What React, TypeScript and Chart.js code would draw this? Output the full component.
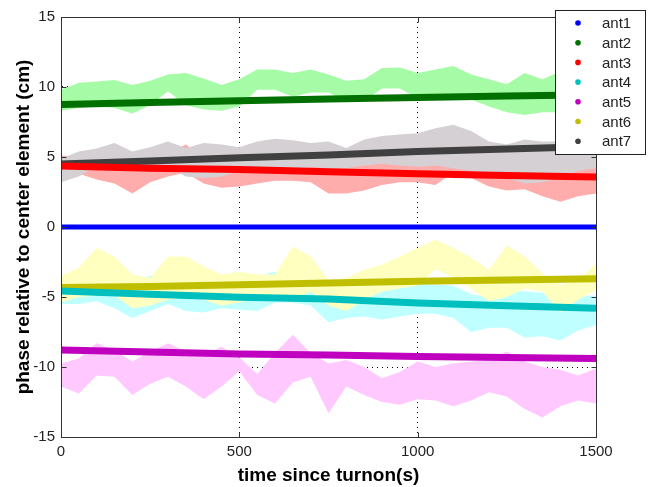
import React, { useEffect, useRef } from "react";
import { Chart, registerables } from "chart.js";

Chart.register(...registerables);

// ---------- data ----------
const SERIES_NAMES = ["ant1", "ant2", "ant3", "ant4", "ant5", "ant6", "ant7"];
const LINE_COLORS = ["#0000ff", "rgb(0,112,0)", "#ff0000", "rgb(0,191,191)", "rgb(191,0,191)", "rgb(191,191,0)", "rgb(64,64,64)"];
const BAND_COLORS = ["", "rgb(166,252,166)", "rgb(255,172,172)", "rgb(192,255,255)", "rgb(255,200,255)", "rgb(255,255,192)", "rgb(212,208,212)"];

const X_TICKS = [0, 500, 1000, 1500];
const Y_TICKS = [-15, -10, -5, 0, 5, 10, 15];

// trend lines (thick)
const LINE_TIMES = [0, 250, 500, 750, 1000, 1250, 1500];
const ANT1_TREND = [0, 0, 0, 0, 0, 0, 0];
const ANT2_TREND = [8.75, 8.9, 9.02, 9.15, 9.25, 9.35, 9.45];
const ANT3_TREND = [4.35, 4.2, 4.1, 3.95, 3.8, 3.68, 3.58];
const ANT4_TREND = [-4.57, -4.8, -5.02, -5.15, -5.42, -5.62, -5.8];
const ANT5_TREND = [-8.78, -8.92, -9.07, -9.15, -9.25, -9.33, -9.4];
const ANT6_TREND = [-4.33, -4.25, -4.13, -4.0, -3.88, -3.78, -3.7];
const ANT7_TREND = [4.5, 4.72, 4.95, 5.15, 5.4, 5.58, 5.75];

// noisy envelopes (upper / lower)
const TIMES = [0, 50, 100, 150, 200, 250, 300, 350, 400, 450, 500, 550, 600, 650, 700, 750, 800, 850, 900, 950, 1000, 1050, 1100, 1150, 1200, 1250, 1300, 1350, 1400, 1450, 1500];
const ANT2_HI = [9.8, 10.3, 10.4, 10.5, 10.15, 10.45, 10.9, 11.0, 10.6, 10.15, 10.55, 11.25, 11.25, 11.0, 11.25, 10.9, 10.45, 10.55, 11.35, 11.4, 11.0, 11.25, 11.5, 10.9, 10.55, 10.2, 11.0, 10.55, 11.1, 10.8, 10.8];
const ANT2_LO = [8.3, 8.5, 8.6, 8.5, 8.1, 8.7, 9.7, 8.7, 8.4, 8.3, 8.6, 9.8, 9.8, 9.3, 9.6, 9.6, 9.0, 9.0, 9.9, 9.9, 9.2, 9.1, 9.1, 9.1, 8.6, 8.2, 8.0, 8.2, 8.2, 8.5, 8.5];
const ANT3_HI = [5.1, 5.0, 4.9, 4.8, 4.8, 5.0, 5.3, 5.9, 5.0, 4.7, 4.8, 5.2, 5.0, 4.9, 4.7, 4.6, 4.7, 4.8, 5.0, 5.1, 5.1, 5.0, 4.9, 4.6, 4.3, 4.2, 4.0, 4.0, 4.2, 4.5, 5.0];
const ANT3_LO = [4.0, 3.8, 3.4, 3.1, 2.4, 3.2, 3.6, 3.9, 3.1, 2.8, 2.9, 3.1, 3.3, 3.3, 3.2, 2.4, 2.4, 2.6, 3.0, 3.2, 3.2, 3.0, 3.9, 3.5, 2.9, 2.6, 2.7, 2.2, 1.8, 2.2, 2.4];
const ANT4_HI = [-3.9, -3.5, -3.6, -3.4, -3.9, -3.5, -3.0, -3.6, -3.8, -4.0, -3.8, -3.5, -3.2, -3.5, -4.0, -4.5, -4.3, -4.2, -4.2, -4.1, -4.1, -4.1, -4.2, -4.8, -5.0, -4.5, -4.6, -4.7, -5.3, -4.9, -4.9];
const ANT4_LO = [-5.5, -5.5, -5.3, -5.8, -6.5, -6.0, -5.5, -6.0, -6.1, -5.8, -5.9, -6.0, -5.4, -5.4, -5.6, -6.8, -6.5, -6.4, -6.6, -6.4, -6.2, -6.2, -6.5, -7.5, -7.2, -7.2, -7.9, -7.8, -8.1, -7.4, -7.0];
const ANT5_HI = [-9.75, -9.4, -8.3, -8.8, -9.6, -8.9, -8.3, -8.9, -9.15, -8.55, -9.3, -10.5, -9.0, -7.7, -9.0, -9.75, -9.5, -10.0, -10.8, -10.35, -9.6, -10.0, -9.75, -9.6, -9.5, -8.9, -9.6, -10.0, -10.2, -10.6, -10.1];
const ANT5_LO = [-11.4, -11.9, -10.6, -10.7, -12.0, -11.2, -10.7, -11.4, -12.3, -11.4, -10.3, -12.0, -12.6, -11.1, -10.7, -13.3, -11.4, -12.0, -12.5, -12.7, -12.3, -12.4, -12.8, -12.4, -11.8, -12.1, -13.0, -13.6, -12.8, -12.4, -12.6];
const ANT6_HI = [-3.5, -2.9, -1.5, -2.1, -3.4, -3.65, -2.1, -2.1, -2.8, -3.4, -3.2, -3.4, -3.4, -1.4, -2.1, -3.8, -3.65, -3.05, -2.7, -2.1, -1.5, -0.9, -1.5, -2.2, -3.05, -1.3, -2.1, -3.3, -4.1, -3.8, -2.6];
const ANT6_LO = [-5.4, -5.0, -4.9, -4.9, -5.8, -5.6, -5.2, -5.0, -5.2, -5.6, -5.4, -5.0, -5.1, -5.2, -4.6, -5.6, -6.0, -5.2, -4.6, -4.4, -4.2, -3.0, -3.6, -4.4, -5.3, -5.0, -4.4, -4.6, -6.1, -5.2, -4.5];
const ANT7_HI = [4.9, 5.4, 5.6, 6.0, 5.4, 5.7, 6.1, 5.65, 6.0, 5.9, 5.7, 6.1, 6.3, 6.2, 6.0, 6.1, 5.65, 6.25, 6.5, 6.6, 6.7, 7.05, 7.3, 6.85, 6.1, 5.9, 6.25, 6.1, 6.1, 6.0, 6.0];
const ANT7_LO = [3.2, 3.6, 4.3, 4.4, 4.5, 4.4, 4.3, 3.6, 3.5, 3.6, 4.0, 4.0, 4.0, 3.8, 4.3, 4.2, 4.2, 4.4, 4.5, 4.4, 4.3, 4.4, 4.2, 4.0, 3.8, 3.5, 3.1, 3.2, 3.5, 4.0, 4.2];

const X_TITLE = "time since turnon(s)";
const Y_TITLE = "phase relative to center element (cm)";

// ---------- helpers ----------
const FONT = '"Liberation Sans", Arial, Helvetica, sans-serif';
const TRENDS = [ANT1_TREND, ANT2_TREND, ANT3_TREND, ANT4_TREND, ANT5_TREND, ANT6_TREND, ANT7_TREND];

function lineDataset(i: number) {
  return {
    label: SERIES_NAMES[i],
    data: LINE_TIMES.map((t, k) => ({ x: t, y: TRENDS[i][k] })),
    borderColor: LINE_COLORS[i],
    backgroundColor: LINE_COLORS[i],
    borderWidth: i === 0 ? 5 : 7,
    borderCapStyle: "butt",
    pointRadius: 0,
    fill: false,
    tension: 0,
  };
}

function bandDatasets(i: number, hi: number[], lo: number[]) {
  return [
    {
      label: SERIES_NAMES[i] + " upper",
      data: TIMES.map((t, k) => ({ x: t, y: hi[k] })),
      borderColor: "rgba(0,0,0,0)",
      borderWidth: 0,
      backgroundColor: BAND_COLORS[i],
      pointRadius: 0,
      fill: "+1",
      tension: 0,
    },
    {
      label: SERIES_NAMES[i] + " lower",
      data: TIMES.map((t, k) => ({ x: t, y: lo[k] })),
      borderColor: "rgba(0,0,0,0)",
      borderWidth: 0,
      backgroundColor: BAND_COLORS[i],
      pointRadius: 0,
      fill: false,
      tension: 0,
    },
  ];
}

const framePlugin = {
  id: "frame",
  afterDatasetsDraw(chart: any) {
    const { ctx, chartArea: a, scales } = chart;
    ctx.save();
    ctx.strokeStyle = "#333";
    ctx.lineWidth = 1;
    const L = Math.round(a.left) + 0.5, R = Math.round(a.right) + 0.5;
    const T = Math.round(a.top) + 0.5, B = Math.round(a.bottom) + 0.5;
    ctx.beginPath();
    ctx.moveTo(L, T); ctx.lineTo(R, T); ctx.lineTo(R, B); ctx.lineTo(L, B); ctx.closePath();
    const tl = 5;
    for (const v of X_TICKS) {
      const px = Math.round(scales.x.getPixelForValue(v)) + 0.5;
      ctx.moveTo(px, B); ctx.lineTo(px, B - tl);
      ctx.moveTo(px, T); ctx.lineTo(px, T + tl);
    }
    for (const v of Y_TICKS) {
      const py = Math.round(scales.y.getPixelForValue(v)) + 0.5;
      ctx.moveTo(L, py); ctx.lineTo(L + tl, py);
      ctx.moveTo(R, py); ctx.lineTo(R - tl, py);
    }
    ctx.stroke();
    ctx.restore();
  },
};

const legendPlugin = {
  id: "customLegend",
  afterDraw(chart: any) {
    const { ctx } = chart;
    ctx.save();
    const bx = 555, by = 10, bw = 90, bh = 144;
    ctx.fillStyle = "#ffffff";
    ctx.fillRect(bx, by, bw, bh);
    ctx.strokeStyle = "#222";
    ctx.lineWidth = 1;
    ctx.strokeRect(bx + 0.5, by + 0.5, bw, bh);
    ctx.font = "15px " + FONT;
    ctx.textBaseline = "middle";
    ctx.textAlign = "left";
    SERIES_NAMES.forEach((name, i) => {
      const y = by + 13 + i * 19.7;
      ctx.fillStyle = LINE_COLORS[i];
      ctx.beginPath();
      ctx.arc(bx + 23, y, 2.8, 0, Math.PI * 2);
      ctx.fill();
      ctx.fillStyle = "#222";
      ctx.fillText(name, bx + 47, y + 1);
    });
    ctx.restore();
  },
};

const gridColor = (c: any) => {
  const v = c.tick ? c.tick.value : null;
  if (v === null) return "rgba(0,0,0,0)";
  if (c.scale.axis === "x" && (v === 0 || v === 1500)) return "rgba(0,0,0,0)";
  if (c.scale.axis === "y" && (v === -15 || v === 15)) return "rgba(0,0,0,0)";
  return "#000";
};

const plainLabel = (v: any) => String(v);

export default function App() {
  const ref = useRef<HTMLCanvasElement | null>(null);
  useEffect(() => {
    if (!ref.current) return;
    const datasets: any[] = [];
    for (let i = 0; i < 7; i++) datasets.push(lineDataset(i));
    datasets.push(...bandDatasets(6, ANT7_HI, ANT7_LO));
    datasets.push(...bandDatasets(5, ANT6_HI, ANT6_LO));
    datasets.push(...bandDatasets(4, ANT5_HI, ANT5_LO));
    datasets.push(...bandDatasets(3, ANT4_HI, ANT4_LO));
    datasets.push(...bandDatasets(2, ANT3_HI, ANT3_LO));
    datasets.push(...bandDatasets(1, ANT2_HI, ANT2_LO));

    const chart = new Chart(ref.current, {
      type: "line",
      data: { datasets },
      options: {
        animation: false,
        responsive: false,
        devicePixelRatio: 1,
        events: [],
        layout: { padding: { left: 0, top: 17, right: 54, bottom: 0 } },
        plugins: { legend: { display: false }, tooltip: { enabled: false } },
        scales: {
          x: {
            type: "linear",
            min: 0,
            max: 1500,
            afterBuildTicks: (s: any) => { s.ticks = X_TICKS.map((v) => ({ value: v })); },
            afterFit: (s: any) => { s.height = 50; },
            grid: { color: gridColor, lineWidth: 1, drawTicks: false },
            border: { display: true, color: "#333", dash: [1, 4] },
            ticks: { font: { family: FONT, size: 15 }, color: "#222", padding: 6, maxRotation: 0, autoSkip: false, callback: plainLabel },
            title: { display: true, text: X_TITLE, font: { family: FONT, size: 19, weight: "bold" }, color: "#000", padding: { top: 11, bottom: 0 } },
          },
          y: {
            type: "linear",
            min: -15,
            max: 15,
            afterBuildTicks: (s: any) => { s.ticks = Y_TICKS.map((v) => ({ value: v })); },
            afterFit: (s: any) => { s.width = 61; },
            grid: { color: gridColor, lineWidth: 1, drawTicks: false },
            border: { display: true, color: "#333", dash: [1, 4] },
            ticks: { font: { family: FONT, size: 15 }, color: "#222", padding: 6, autoSkip: false, callback: plainLabel },
            title: { display: true, text: Y_TITLE, font: { family: FONT, size: 19, weight: "bold" }, color: "#000", padding: { top: 12, bottom: 0 } },
          },
        },
      } as any,
      plugins: [framePlugin, legendPlugin],
    });
    return () => chart.destroy();
  }, []);

  return (
    <div style={{ position: "absolute", left: 0, top: 0, width: 650, height: 487, background: "#fff" }}>
      <canvas ref={ref} width={650} height={487} style={{ display: "block" }} />
    </div>
  );
}
